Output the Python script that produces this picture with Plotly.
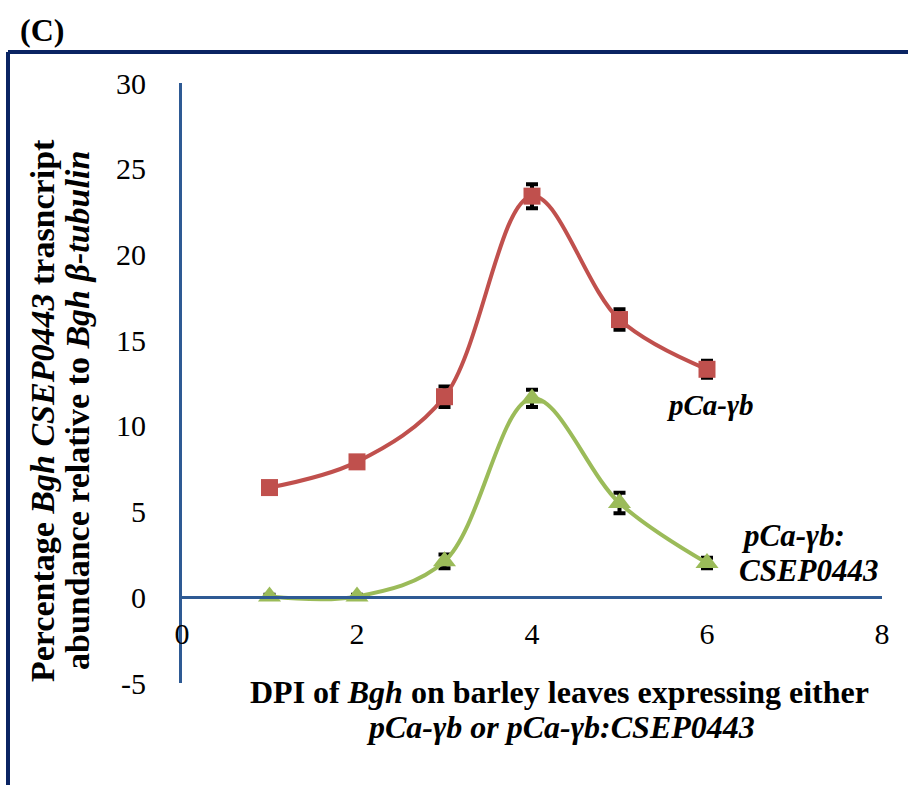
import plotly.graph_objects as go

dpi = [1, 2, 3, 4, 5, 6]
ctrl_vals = [6.4, 7.9, 11.7, 23.4, 16.2, 13.3]
ctrl_err = [0.3, 0.3, 0.6, 0.7, 0.6, 0.5]
csep_vals = [0.05, 0.05, 2.1, 11.6, 5.5, 2.0]
csep_err = [0.1, 0.1, 0.4, 0.5, 0.6, 0.3]
x_ticks = [0, 2, 4, 6, 8]
x_tick_text = ["0", "2", "4", "6", "8"]
y_ticks = [-5, 0, 5, 10, 15, 20, 25, 30]
y_tick_text = ["-5", "0", "5", "10", "15", "20", "25", "30"]

W, H = 908, 785
RED = "#C0504D"
GREEN = "#9BBB59"
AXIS = "#2E5A94"
FRAME = "#0A2463"
FONT = "Liberation Serif"

fig = go.Figure()
fig.add_trace(go.Scatter(
    x=dpi, y=ctrl_vals, mode="lines+markers",
    line=dict(color=RED, width=4, shape="spline", smoothing=1.0),
    marker=dict(symbol="square", size=17, color=RED),
    error_y=dict(type="data", array=ctrl_err, color="black", thickness=4, width=6),
    showlegend=False,
))
fig.add_trace(go.Scatter(
    x=dpi, y=csep_vals, mode="lines+markers",
    line=dict(color=GREEN, width=4, shape="spline", smoothing=1.0),
    marker=dict(symbol="triangle-up", size=20, color=GREEN),
    error_y=dict(type="data", array=csep_err, color="black", thickness=4, width=6),
    showlegend=False,
))

x0, x1 = 182, 882
y_top, y_bot = 83, 683
y_zero = 597

fig.update_layout(
    template="none",
    width=W, height=H, autosize=False,
    margin=dict(l=0, r=0, t=0, b=0, pad=0),
    paper_bgcolor="white", plot_bgcolor="white",
    font=dict(family=FONT, color="black"),
    xaxis=dict(
        domain=[x0 / W, x1 / W], range=[0, 8], tickvals=x_ticks, ticktext=x_tick_text,
        showgrid=False, zeroline=False, showline=True, linecolor=AXIS, linewidth=3,
        anchor="free", position=(H - y_zero) / H, automargin=False,
        ticks="", ticklabelstandoff=9, tickfont=dict(size=30, family=FONT, color="black"),
    ),
    yaxis=dict(
        domain=[(H - y_bot) / H, (H - y_top) / H], range=[-5, 30], tickvals=y_ticks, ticktext=y_tick_text,
        showgrid=False, zeroline=False, showline=True, linecolor=AXIS, linewidth=3, automargin=False,
        ticks="", ticklabelstandoff=27, tickfont=dict(size=30, family=FONT, color="black"),
    ),
)

# frame
fig.add_shape(type="line", xref="paper", yref="paper", x0=8 / W, x1=1, y0=(H - 52) / H, y1=(H - 52) / H,
              line=dict(color=FRAME, width=4))
fig.add_shape(type="line", xref="paper", yref="paper", x0=8 / W, x1=8 / W, y0=0, y1=(H - 52) / H,
              line=dict(color=FRAME, width=4))


def A(text, px, py, size, xanchor="center", angle=0):
    return dict(text=text, x=px / W, y=(H - py) / H, xref="paper", yref="paper",
                xanchor=xanchor, yanchor="middle", showarrow=False, textangle=angle,
                font=dict(size=size, family=FONT, color="black"))


ann = [
    A("<b>(C)</b>", 18, 30, 32, xanchor="left"),
    A("<b>Percentage <i>Bgh CSEP0443</i> trasncript</b>", 42, 411, 34, angle=-90),
    A("<b>abundance relative to <i>Bgh β-tubulin</i></b>", 77, 411, 34, angle=-90),
    A("<b>DPI of <i>Bgh</i> on barley leaves expressing either</b>", 559, 692, 32),
    A("<b><i>pCa-γb or pCa-γb:CSEP0443</i></b>", 560, 727, 32),
    A("<b><i>pCa-γb</i></b>", 710, 405, 29),
    A("<b><i>pCa-γb:</i></b>", 739, 535, 31, xanchor="left"),
    A("<b><i>CSEP0443</i></b>", 737, 570, 31, xanchor="left"),
]
fig.update_layout(annotations=ann)

fig.write_html("out.html")
